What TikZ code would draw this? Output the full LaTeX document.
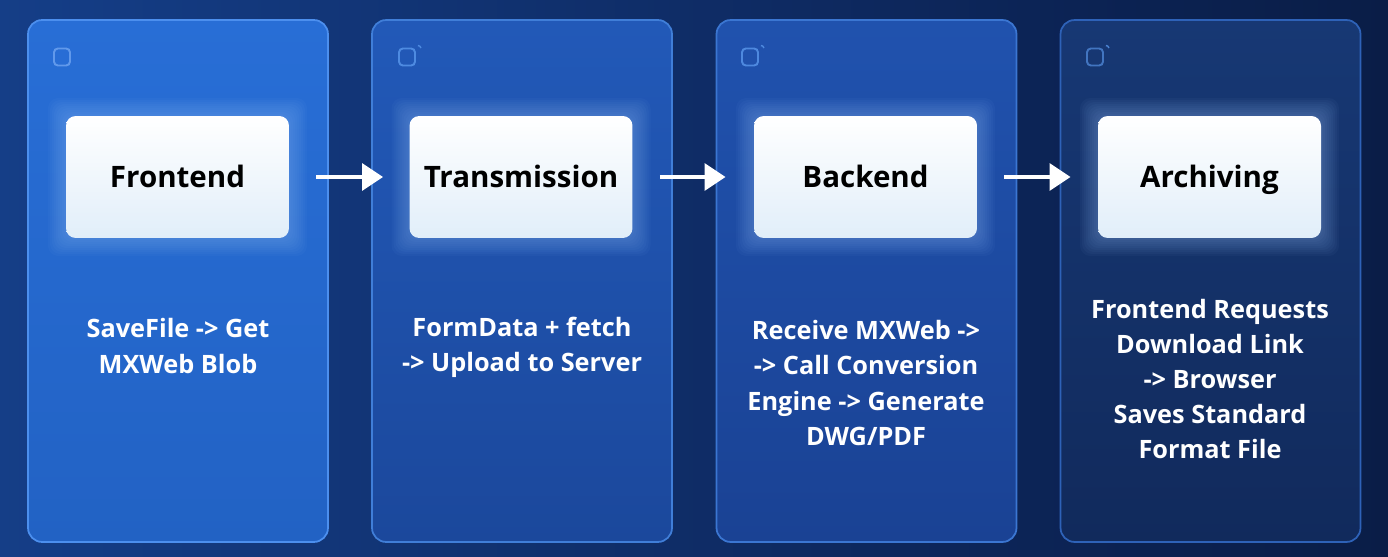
\documentclass[tikz,border=0pt]{standalone}
\usepackage{fontspec}
\setmainfont{Open Sans}
\usetikzlibrary{arrows.meta}
\definecolor{bgL}{HTML}{1C4E9E}
\definecolor{bgM}{HTML}{143C84}
\definecolor{bgD}{HTML}{0C2456}
\definecolor{bgR}{HTML}{06102A}
\definecolor{pa1t}{HTML}{286ED6}
\definecolor{pa1b}{HTML}{2262C4}
\definecolor{pa2t}{HTML}{2259B8}
\definecolor{pa2b}{HTML}{1B489C}
\definecolor{pa3t}{HTML}{2052AE}
\definecolor{pa3b}{HTML}{1A4294}
\definecolor{pa4t}{HTML}{173874}
\definecolor{pa4b}{HTML}{112A5C}
\definecolor{bd1}{HTML}{4C8FEE}
\definecolor{bd2}{HTML}{407ED8}
\definecolor{bd3}{HTML}{3B76D2}
\definecolor{bd4}{HTML}{2E62B8}
\definecolor{icon}{HTML}{5A98EC}
\definecolor{boxb}{HTML}{E1EEF9}
\definecolor{glow}{HTML}{9CC6FF}
\pgfdeclarehorizontalshading{bgshade}{100bp}{color(0bp)=(bgL); color(28bp)=(bgM); color(62bp)=(bgD); color(100bp)=(bgR)}
\tikzset{
  panel/.style={rounded corners=8pt, line width=1pt, minimum width=6cm, minimum height=10.44cm, inner sep=0pt},
  tbox/.style={rounded corners=5.5pt, top color=white, bottom color=boxb, minimum width=4.46cm, minimum height=2.44cm, inner sep=0pt, text height=12pt, text depth=0pt, font=\fontsize{16.8}{20}\selectfont\bfseries, text=black},
  desc/.style={align=center, text=white, font=\fontsize{14.4}{20}\selectfont\bfseries, inner sep=0pt},
  iconbox/.style={draw=icon, line width=1.1pt, rounded corners=2.2pt, minimum width=0.32cm, minimum height=0.34cm, inner sep=0pt, opacity=0.8},
  flow/.style={draw=white, line width=2.8pt, -{Triangle[length=12pt,width=15pt]}},
  halo/.style={fill=glow, fill opacity=0.04}
}
\begin{document}
\begin{tikzpicture}[x=0.02cm,y=-0.02cm]
\useasboundingbox (0,0) rectangle (1388,557);
\shade[shading=bgshade] (0,0) rectangle (1388,557);
% panels
\node[panel, top color=pa1t, bottom color=pa1b, draw=bd1] (p1) at (178,281) {};
\node[panel, top color=pa2t, bottom color=pa2b, draw=bd2] (p2) at (522,281) {};
\node[panel, top color=pa3t, bottom color=pa3b, draw=bd3] (p3) at (866.5,281) {};
\node[panel, top color=pa4t, bottom color=pa4b, draw=bd4] (p4) at (1210.5,281) {};
% icons
\node[iconbox, draw=bd1!80!white] (ic1) at (62,57) {};
\node[iconbox] (ic2) at (407,57) {};
\node[iconbox] (ic3) at (750,57) {};
\node[iconbox, draw=icon!80!pa4t] (ic4) at (1095,57) {};
\foreach \ic in {ic2,ic3,ic4}
  \draw[icon, line width=0.8pt, opacity=0.8] ([xshift=0.04cm,yshift=0.04cm]\ic.north east) arc[start angle=90, end angle=10, radius=0.06cm];
% glow around boxes
\foreach \cx in {177.5,521,865.5,1209.5}{
  \foreach \g in {2,4,...,18}{
    \fill[halo, rounded corners=6pt] (\cx-111.5-\g,116-\g) rectangle (\cx+111.5+\g,238+\g);
  }
}
% title boxes
\node[tbox] (b1) at (177.5,177) {Frontend};
\node[tbox] (b2) at (521,177) {Transmission};
\node[tbox] (b3) at (865.5,177) {Backend};
\node[tbox] (b4) at (1209.5,177) {Archiving};
% arrows
\draw[flow] ([xshift=0.54cm]b1.east) -- ([xshift=-0.52cm]b2.west);
\draw[flow] ([xshift=0.54cm]b2.east) -- ([xshift=-0.56cm]b3.west);
\draw[flow] ([xshift=0.54cm]b3.east) -- ([xshift=-0.54cm]b4.west);
% descriptions
\node[desc] (d1) at (178,346) {SaveFile -> Get\\MXWeb Blob};
\node[desc] (d2) at (522,347) {FormData + fetch\\-> Upload to Server};
\node[desc] (d3) at (866,383) {Receive MXWeb ->\\-> Call Conversion\\Engine -> Generate\\DWG/PDF};
\node[desc] (d4) at (1210,379) {Frontend Requests\\Download Link\\-> Browser\\Saves Standard\\Format File};
\end{tikzpicture}
\end{document}
